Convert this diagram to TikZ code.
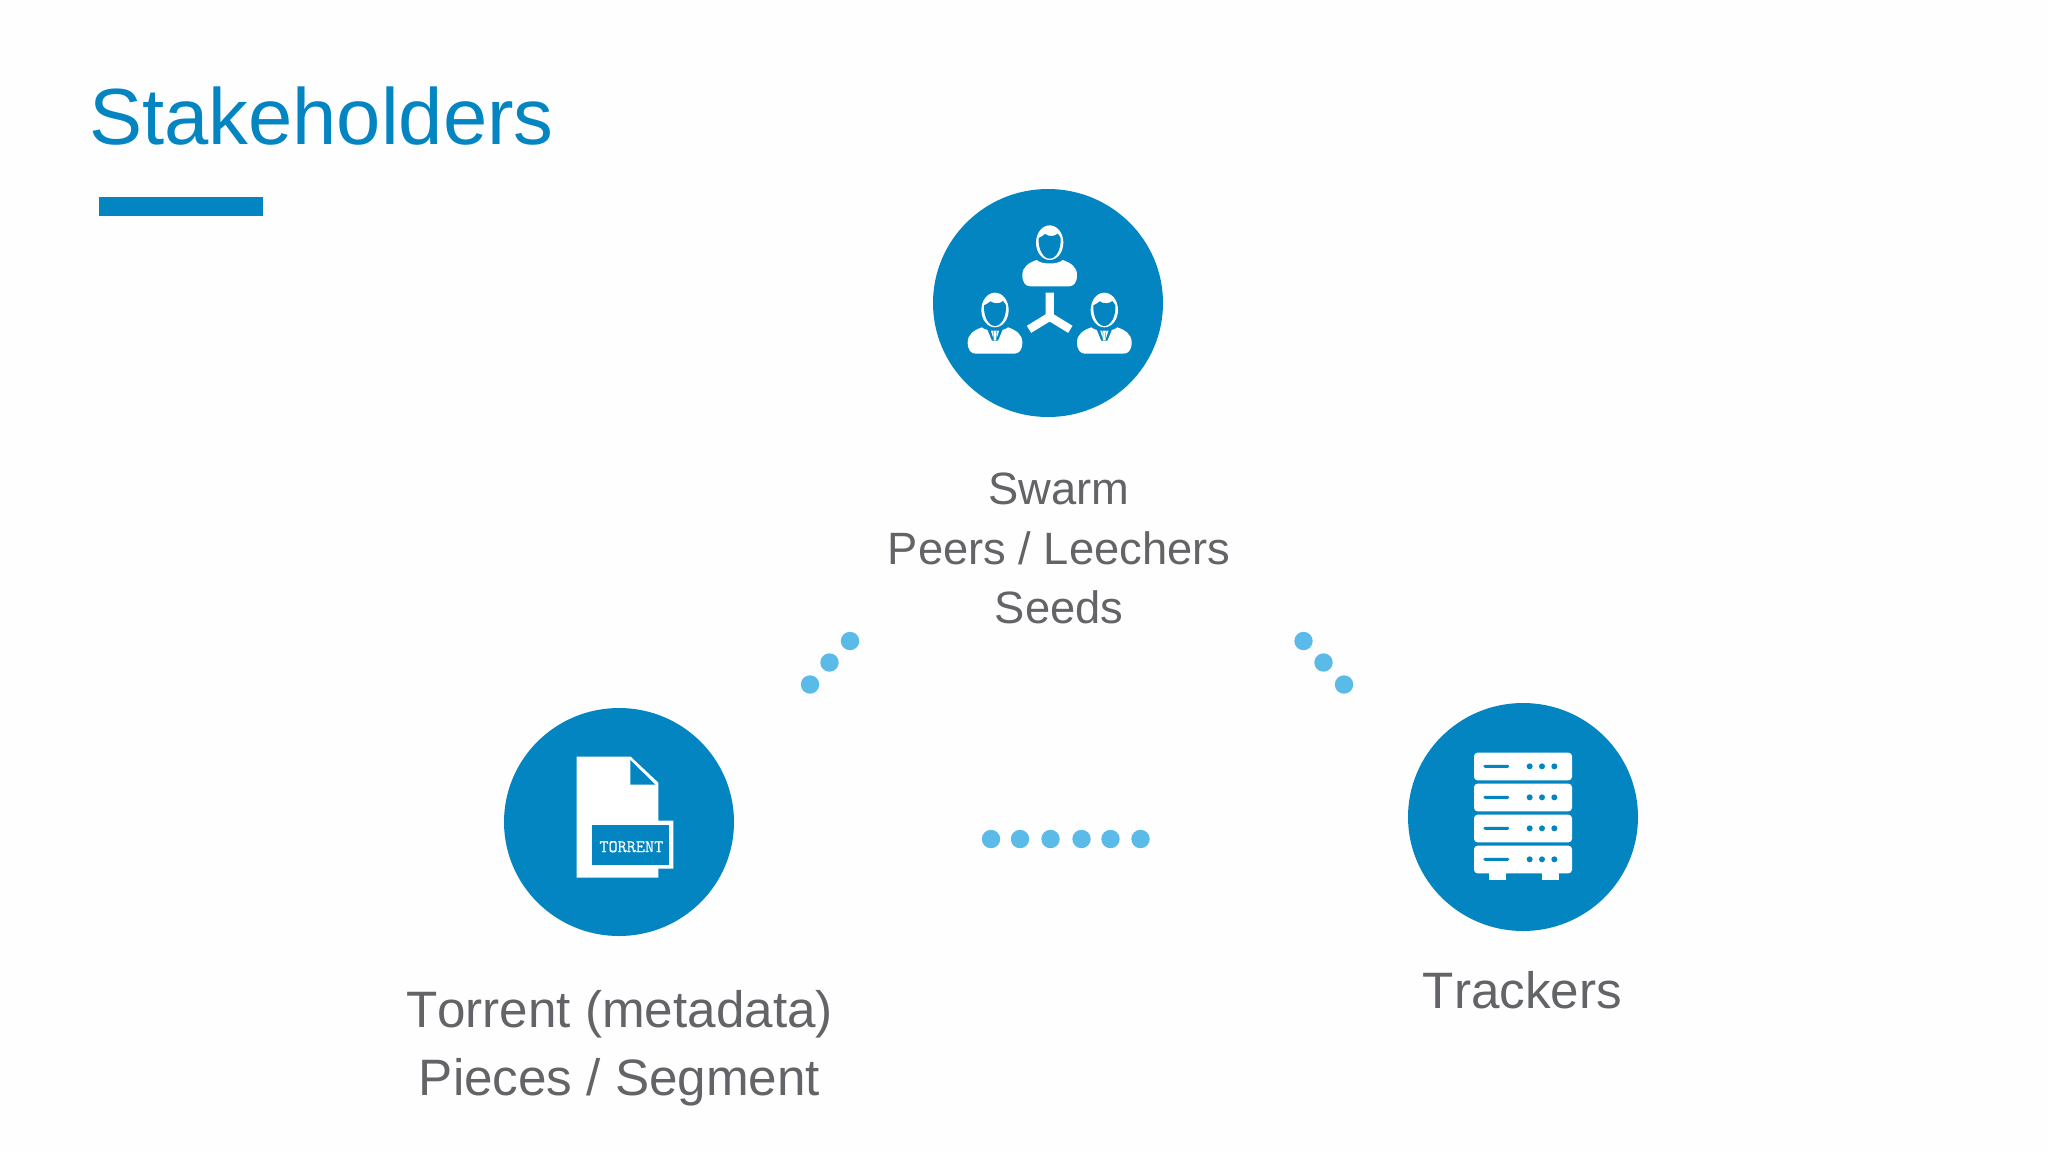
\documentclass[tikz,border=0pt]{standalone}
\usetikzlibrary{shapes.geometric}
\usepackage{fontspec}
\setmainfont[Kerning=Off]{Liberation Sans}
\newfontfamily\tagfont[FakeBold=0.4]{Latin Modern Mono}
\definecolor{brandblue}{HTML}{0385C1}
\definecolor{dotblue}{HTML}{5ABBE8}
\definecolor{labelgray}{HTML}{636467}
\definecolor{paper}{HTML}{FEFEFE}
\tikzset{
  disc/.style={fill=brandblue,draw=none,ellipse,minimum width=230pt,minimum height=228pt,inner sep=0pt},
  dotmark/.style={fill=dotblue,draw=none},
  whiteshape/.style={fill=white,draw=none},
  blueshape/.style={fill=brandblue,draw=none},
  swarmlabel/.style={text=labelgray,inner sep=0pt,anchor=base,font=\fontsize{45.3}{54}\selectfont},
  biglabel/.style={text=labelgray,inner sep=0pt,anchor=base,font=\fontsize{51.2}{60}\selectfont},
}
% person icon in zoom units (head centred on 0,0)
\newcommand{\personbody}{%
  \fill[whiteshape] (-39,52) .. controls (-62,60) and (-82,72) .. (-82,97)
    .. controls (-82,120) and (-72,131) .. (-58,131) -- (58,131)
    .. controls (72,131) and (82,120) .. (82,97)
    .. controls (82,72) and (62,60) .. (39,52)
    .. controls (25,66) and (-25,66) .. (-39,52) -- cycle;
  \fill[blueshape] (0,0) ellipse [x radius=47, y radius=58];
  \fill[whiteshape] (0,0) ellipse [x radius=41, y radius=52];
  \fill[blueshape] (-33,-14) .. controls (-24,-18) and (-18,-22) .. (-14,-26)
    .. controls (-2,-18) and (14,-18) .. (24,-27)
    .. controls (28,-22) and (31,-18) .. (33,-14)
    .. controls (35,22) and (18,48) .. (0,48)
    .. controls (-18,48) and (-35,22) .. (-33,-14) -- cycle;
}
\newcommand{\persontie}{%
  \fill[blueshape] (-23,58) -- (-14,58) -- (-3,92) -- (-9,92) -- cycle;
  \fill[blueshape] (23,58) -- (14,58) -- (3,92) -- (9,92) -- cycle;
  \fill[blueshape] (-7,60) -- (7,60) -- (4,71) -- (6,92) -- (-6,92) -- (-4,71) -- cycle;
  \fill[whiteshape] (-5,62) -- (5,62) -- (3,71) -- (4,91) -- (-4,91) -- (-3,71) -- cycle;
}
\newcommand{\serverrow}[1]{%
  \fill[whiteshape,rounded corners=3.5pt] (222,#1) rectangle (516,#1+83);
  \fill[blueshape,rounded corners=1.5pt] (250,#1+36.5) rectangle (328,#1+45.5);
  \foreach \dx in {389,426,463} {\fill[blueshape] (\dx,#1+41) circle (9);}
}
\begin{document}
\begin{tikzpicture}[x=1pt,y=-1pt]
\useasboundingbox (0,0) rectangle (2048,1152);
\fill[paper] (0,0) rectangle (2048,1152);

% title
\node[text=brandblue,inner sep=0pt,anchor=base west,font=\fontsize{79.6}{90}\selectfont] (title) at (89,144) {Stakeholders};
\fill[brandblue] (99,197) rectangle (263,216);

% discs
\node[disc] (swarm) at (1048,303) {};
\node[disc] (torrent) at (619,822) {};
\node[disc] (trackers) at (1523,817) {};

% swarm icon
\begin{scope}[shift={(920,170)},scale=1/3]
  \begin{scope}[shift={(389,218)}]\personbody\end{scope}
  \begin{scope}[shift={(225,420)}]\personbody\persontie\end{scope}
  \begin{scope}[shift={(553,420)}]\personbody\persontie\end{scope}
  \draw[white,line width=8.3pt] (389,368) -- (389,440) -- (327,478);
  \draw[white,line width=8.3pt] (389,440) -- (451,478);
\end{scope}

% torrent icon
\begin{scope}[shift={(490,700)},scale=1/3]
  \fill[whiteshape] (260,170) -- (422,170) -- (505,248) -- (505,362) -- (550,362) -- (550,506)
    -- (505,506) -- (505,533) -- (260,533) -- cycle;
  \fill[blueshape] (421,180) -- (421,254) -- (496,254) -- cycle;
  \fill[blueshape] (307,374) rectangle (538,494);
  \node[text=white,inner sep=0pt,font=\tagfont\fontsize{17.7}{20}\selectfont] (torrenttag) at (424,440) {TORRENT};
\end{scope}

% server icon
\begin{scope}[shift={(1400,700)},scale=1/3]
  \fill[whiteshape] (267,510) rectangle (319,541);
  \fill[whiteshape] (426,510) rectangle (478,541);
  \serverrow{158}
  \serverrow{251}
  \serverrow{344}
  \serverrow{437}
\end{scope}

% labels
\node[swarmlabel] (l1) at (1059,504) {Swarm};
\node[swarmlabel] (l2) at (1059,564) {Peers / Leechers};
\node[swarmlabel] (l3) at (1059,623.5) {Seeds};
\node[biglabel] (l4) at (619.5,1027.5) {Torrent (metadata)};
\node[biglabel] (l5) at (619.5,1095.5) {Pieces / Segment};
\node[biglabel] (l6) at (1522.5,1008) {Trackers};

% dots
\foreach \px/\py in {850/641,829.5/662.5,810/684.5,1303.5/641,1323.5/662.5,1344/684.5,991/839,1020/839,1050.5/839,1081.5/839,1110.5/839,1140.5/839}
  \fill[dotmark] (\px,\py) circle (9.2);
\end{tikzpicture}
\end{document}
